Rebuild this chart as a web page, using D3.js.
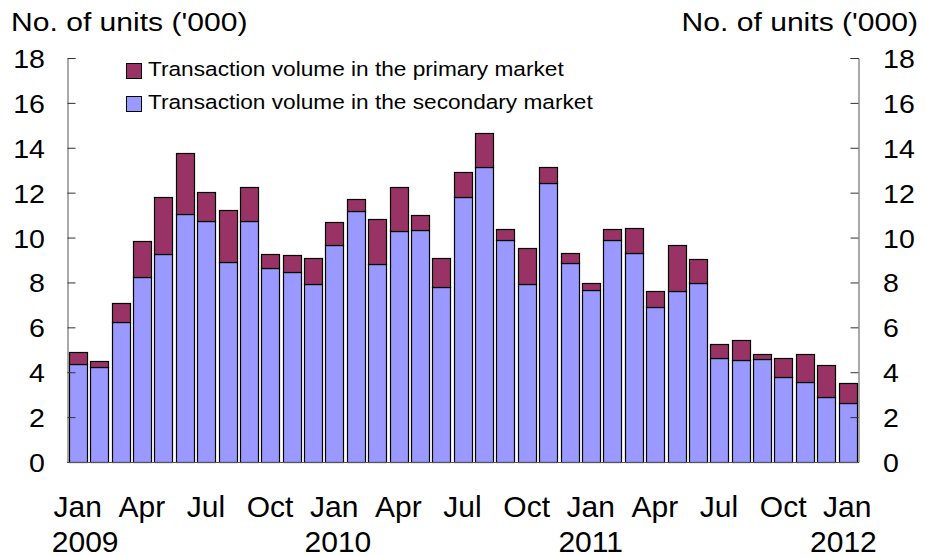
<!DOCTYPE html>
<html>
<head>
<meta charset="utf-8">
<script src="https://cdn.jsdelivr.net/npm/d3@7"></script>
<style>
  body { margin: 0; background: #fff; }
  svg text { font-family: "Liberation Sans", Arial, sans-serif; fill: #000; }
</style>
</head>
<body>
<div id="chart"></div>
<script>
// months Jan 2009 .. Jan 2012
var months = ["Jan 2009","Feb 2009","Mar 2009","Apr 2009","May 2009","Jun 2009","Jul 2009","Aug 2009","Sep 2009","Oct 2009","Nov 2009","Dec 2009",
              "Jan 2010","Feb 2010","Mar 2010","Apr 2010","May 2010","Jun 2010","Jul 2010","Aug 2010","Sep 2010","Oct 2010","Nov 2010","Dec 2010",
              "Jan 2011","Feb 2011","Mar 2011","Apr 2011","May 2011","Jun 2011","Jul 2011","Aug 2011","Sep 2011","Oct 2011","Nov 2011","Dec 2011",
              "Jan 2012"];
var secondary = [4.35, 4.23, 6.22, 8.26, 9.27, 11.06, 10.73, 8.91, 10.73, 8.64, 8.48, 7.91,
                 9.65, 11.18, 8.81, 10.27, 10.33, 7.81, 11.79, 13.14, 9.87, 7.91, 12.43, 8.86,
                 7.68, 9.87, 9.32, 6.89, 7.62, 7.96, 4.62, 4.53, 4.59, 3.80, 3.56, 2.90,
                 2.61];
var primary = [0.54, 0.25, 0.85, 1.57, 2.52, 2.72, 1.30, 2.31, 1.51, 0.63, 0.73, 1.19,
               1.03, 0.55, 2.03, 1.98, 0.67, 1.29, 1.13, 1.53, 0.52, 1.64, 0.71, 0.45,
               0.28, 0.52, 1.12, 0.74, 2.05, 1.08, 0.64, 0.89, 0.22, 0.83, 1.25, 1.41,
               0.91];
var yTicks = [0, 2, 4, 6, 8, 10, 12, 14, 16, 18];
var monthLabels = ["Jan", "Apr", "Jul", "Oct", "Jan", "Apr", "Jul", "Oct", "Jan", "Apr", "Jul", "Oct", "Jan"];
var yearLabels = ["2009", "2010", "2011", "2012"];
var seriesNames = ["Transaction volume in the primary market", "Transaction volume in the secondary market"];
var colors = {primary: "#993366", secondary: "#9999FF"};

var W = 925, H = 557;
var m = {left: 67, right: 67, top: 58, bottom: 95};

var svg = d3.select("#chart").append("svg").attr("width", W).attr("height", H);

var x = d3.scaleBand().domain(months).range([m.left, W - m.right]).paddingInner(0.18).paddingOuter(0.09);
var y = d3.scaleLinear().domain([0, 18]).range([H - m.bottom, m.top]);

// stretched text helper (source fonts are a bit wider than Arial)
function label(px, py, txt, size, sx, anchor) {
    return svg.append("text")
        .attr("transform", "translate(" + px + "," + py + ") scale(" + sx + ",1)")
        .attr("text-anchor", anchor || "start")
        .style("font-size", size + "px").text(txt);
}

// bars
var g = svg.append("g");
months.forEach(function (mo, i) {
    var bx = Math.round(x(mo)) + 0.5, bw = Math.round(x.bandwidth());
    g.append("rect")
        .attr("x", bx).attr("width", bw)
        .attr("y", Math.round(y(secondary[i])) + 0.5)
        .attr("height", Math.round(y(0)) - Math.round(y(secondary[i])))
        .attr("fill", colors.secondary).attr("stroke", "#000").attr("stroke-width", 1.2);
    g.append("rect")
        .attr("x", bx).attr("width", bw)
        .attr("y", Math.round(y(secondary[i] + primary[i])) + 0.5)
        .attr("height", Math.round(y(secondary[i])) - Math.round(y(secondary[i] + primary[i])))
        .attr("fill", colors.primary).attr("stroke", "#000").attr("stroke-width", 1.2);
});

// axes
var left = svg.append("g").attr("transform", "translate(" + (m.left + 0.5) + ",0)")
    .call(d3.axisRight(y).tickValues(yTicks).tickSize(8).tickFormat(""));
var right = svg.append("g").attr("transform", "translate(" + (W - m.right + 0.5) + ",0)")
    .call(d3.axisLeft(y).tickValues(yTicks).tickSize(8).tickFormat(""));
[left, right].forEach(function (a) {
    a.select(".domain").attr("stroke", "#555");
    a.selectAll(".tick line").attr("stroke", "#333");
});
svg.append("line").attr("x1", m.left).attr("x2", W - m.right)
    .attr("y1", Math.round(y(0)) + 0.5).attr("y2", Math.round(y(0)) + 0.5)
    .attr("stroke", "#555");

// y tick labels
yTicks.forEach(function (t) {
    label(45, y(t) + 10, t, 25.5, 1.12, "end");
    label(883, y(t) + 10, t, 25.5, 1.12, "start");
});

// x labels, every third month
monthLabels.forEach(function (lab, k) {
    var cx = x(months[k * 3]) + x.bandwidth() / 2;
    svg.append("text").attr("x", cx).attr("y", 517)
        .attr("text-anchor", "middle").style("font-size", "30px").text(lab);
});
yearLabels.forEach(function (yr, k) {
    var cx = x(months[k * 12]) + x.bandwidth() / 2;
    svg.append("text").attr("x", cx + 7.5 - 3.8 * k).attr("y", 551.5)
        .attr("text-anchor", "middle").style("font-size", "30px").text(yr);
});

// axis titles
label(11, 31, "No. of units ('000)", 25.5, 1.18, "start");
label(918, 31, "No. of units ('000)", 25.5, 1.18, "end");

// legend
var legColors = [colors.primary, colors.secondary];
seriesNames.forEach(function (s, i) {
    var ly = 63 + i * 33;
    svg.append("rect").attr("x", 126.5).attr("y", ly + 0.5).attr("width", 15).attr("height", 15)
        .attr("fill", legColors[i]).attr("stroke", "#000");
    label(148, ly + 13, s, 20.5, 1.105, "start");
});
</script>
</body>
</html>
